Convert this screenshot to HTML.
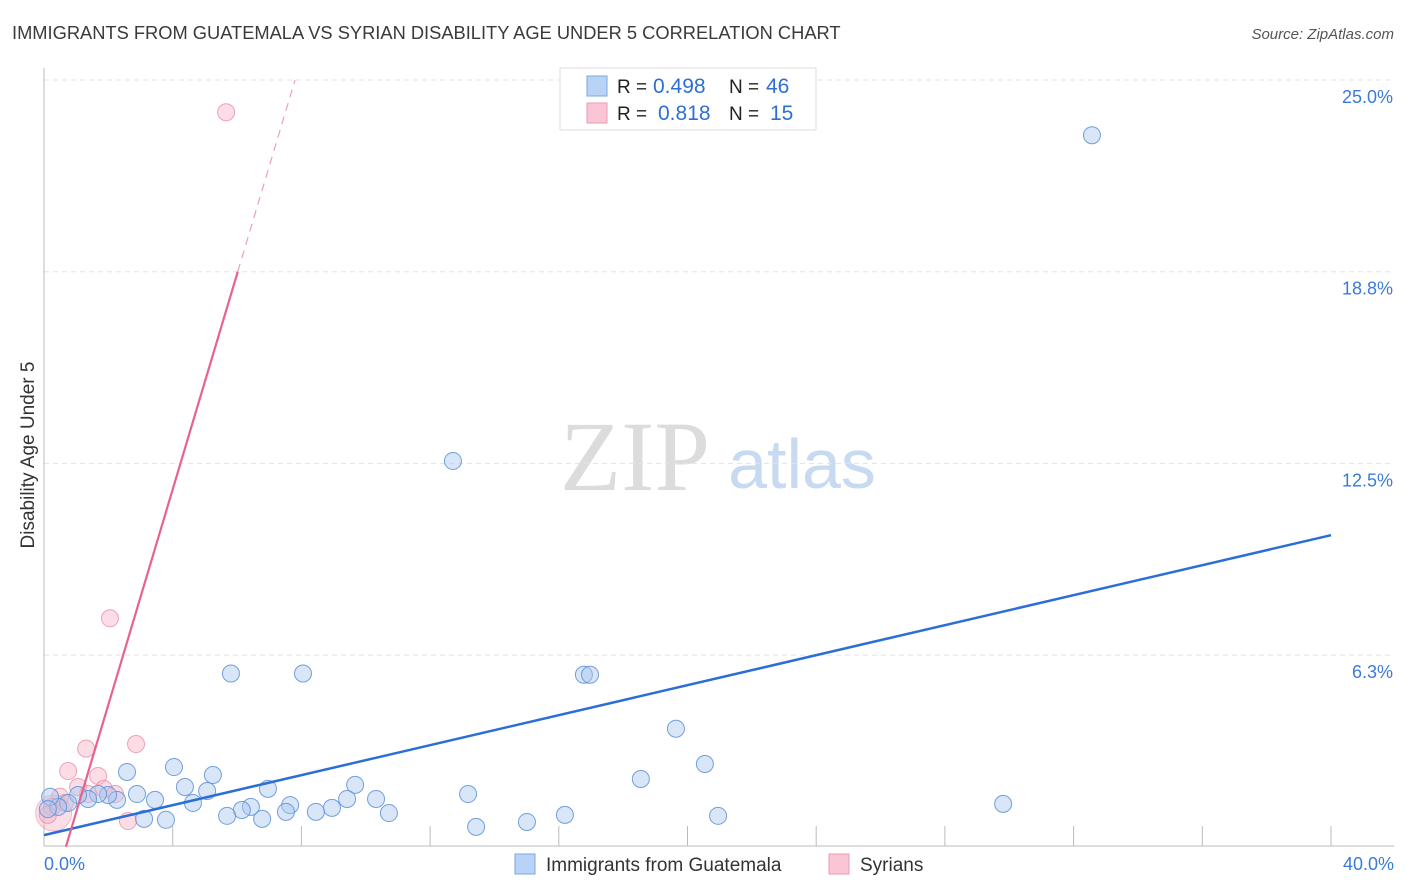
<!DOCTYPE html>
<html><head><meta charset="utf-8">
<style>
body{margin:0;background:#fff;font-family:"Liberation Sans",sans-serif;}
#wrap{position:relative;width:1406px;height:892px;overflow:hidden;}
svg text{font-family:"Liberation Sans",sans-serif;}
svg text.serif{font-family:"Liberation Serif",serif;}
</style></head>
<body>
<div id="wrap">
<svg id="chart" width="1406" height="892">
  <text x="12" y="39" font-size="18.3" fill="#3a3a3a">IMMIGRANTS FROM GUATEMALA VS SYRIAN DISABILITY AGE UNDER 5 CORRELATION CHART</text>
  <text x="1394" y="39" font-size="15" fill="#555" font-style="italic" text-anchor="end">Source: ZipAtlas.com</text>
  <text x="34" y="455" font-size="19" fill="#333" text-anchor="middle" transform="rotate(-90 34 455)">Disability Age Under 5</text>
  <g>
    <text class="serif" x="635" y="490" font-size="100" fill="#dcdcdc" text-anchor="middle">ZIP</text>
    <text x="802" y="488" font-size="70" fill="#c8daf2" text-anchor="middle">atlas</text>
  </g>
  <g id="grid"></g>
  <g id="marks"></g>
  <g>
    <rect x="560" y="68" width="256" height="62" fill="#fff" stroke="#ddd"/>
    <rect x="587" y="76" width="20" height="20" fill="#b8d3f5" stroke="#7aa8e0"/>
    <rect x="587" y="103" width="20" height="20" fill="#fac6d6" stroke="#ee9ab4"/>
    <text x="617" y="93" font-size="19" fill="#222">R =</text>
    <text x="653" y="93" font-size="21" fill="#2e6fd4">0.498</text>
    <text x="729" y="93" font-size="19" fill="#222">N =</text>
    <text x="766" y="93" font-size="21" fill="#2e6fd4">46</text>
    <text x="617" y="120" font-size="19" fill="#222">R =</text>
    <text x="658" y="120" font-size="21" fill="#2e6fd4">0.818</text>
    <text x="729" y="120" font-size="19" fill="#222">N =</text>
    <text x="770" y="120" font-size="21" fill="#2e6fd4">15</text>
  </g>
  <g>
    <rect x="515" y="854" width="20" height="20" fill="#b8d3f5" stroke="#7aa8e0"/>
    <text x="546" y="871" font-size="19" fill="#333">Immigrants from Guatemala</text>
    <rect x="829" y="854" width="20" height="20" fill="#fac6d6" stroke="#ee9ab4"/>
    <text x="860" y="871" font-size="19" fill="#333">Syrians</text>
  </g>
</svg>
</div>
<script>
const yTicks=[6.25,12.5,18.75,25];
const yTickLabels=["6.3%","12.5%","18.8%","25.0%"];
const xTicks=[0,4,8,12,16,20,24,28,32,36,40];
const blueX=[32.57,12.71,5.81,8.05,16.78,16.97,19.64,20.54,18.55,29.81,20.95,16.19,15.01,13.43,13.18,10.72,10.32,9.67,9.42,8.95,8.45,7.65,7.52,6.96,6.78,6.43,6.15,5.69,5.25,5.07,4.63,4.38,4.04,3.79,3.45,3.11,2.89,2.58,2.27,1.99,1.68,1.37,1.06,0.75,0.44,0.19,0.12];
const blueY=[23.2,12.58,5.65,5.65,5.61,5.61,3.85,2.7,2.21,1.4,1.01,1.04,0.81,0.65,1.72,1.1,1.56,2.02,1.56,1.27,1.14,1.36,1.14,1.89,0.91,1.3,1.2,1.01,2.34,1.82,1.43,1.95,2.6,0.88,1.53,0.91,1.72,2.44,1.53,1.69,1.72,1.56,1.69,1.43,1.3,1.63,1.23];
const pinkX=[5.66,2.05,2.86,1.31,0.75,1.68,1.06,1.86,2.61,2.21,0.5,0.25,0.12,1.37,0.65];
const pinkY=[23.95,7.45,3.35,3.2,2.47,2.31,1.95,1.89,0.84,1.72,1.63,1.3,1.04,1.72,1.43];
const blueFit=[0.38,0.2445];
const pinkFit=[-2.387,3.51];
const X0=44,X1=1331,Y0=846.8,Y25=80;
const sx=v=>X0+(X1-X0)*v/40;
const sy=v=>Y0-(Y0-Y25)*v/25;
const NS="http://www.w3.org/2000/svg";
function mk(tag,attrs,parent){const e=document.createElementNS(NS,tag);for(const k in attrs)e.setAttribute(k,attrs[k]);parent.appendChild(e);return e;}
const grid=document.getElementById('grid'),marks=document.getElementById('marks');
yTicks.forEach((t,i)=>{
  const l=mk('line',{x1:44,x2:1394,y1:sy(t),y2:sy(t),stroke:'#e3e3e3','stroke-dasharray':'5,4'},grid);
  
  
  const tx=mk('text',{x:1393,y:sy(t)+23,'font-size':18,fill:'#3b7bd8','text-anchor':'end'},grid);
  tx.textContent=yTickLabels[i];
  
  
});
const ya=mk('line',{x1:44,x2:44,y1:68,y2:846,stroke:'#bbb'},grid);


const xa=mk('line',{x1:44,x2:1394,y1:846,y2:846,stroke:'#bbb'},grid);


xTicks.forEach(t=>{
  if(t===0)return;
  const l=mk('line',{x1:sx(t),x2:sx(t),y1:826,y2:846,stroke:'#bbb'},grid);
  
  
});
const xl=mk('text',{x:44,y:870,'font-size':18,fill:'#3b7bd8'},grid);xl.textContent='0.0%';


const xr=mk('text',{x:1394,y:870,'font-size':18,fill:'#3b7bd8','text-anchor':'end'},grid);xr.textContent='40.0%';


const bg=mk('circle',{cx:sx(0.3),cy:sy(1.1),r:18,fill:'rgba(240,160,185,0.35)',stroke:'rgba(230,140,170,0.5)'},marks);


pinkX.forEach((x,i)=>{
  const c=mk('circle',{cx:sx(x),cy:sy(pinkY[i]),r:8.5,fill:'rgba(248,180,200,0.45)',stroke:'rgba(236,140,170,0.8)','stroke-width':1},marks);
  
  
});
blueX.forEach((x,i)=>{
  const c=mk('circle',{cx:sx(x),cy:sy(blueY[i]),r:8.5,fill:'rgba(170,200,240,0.45)',stroke:'rgba(90,145,215,0.85)','stroke-width':1},marks);
  
  
});
const bl=mk('line',{x1:sx(0),y1:sy(blueFit[0]),x2:sx(40),y2:sy(blueFit[0]+blueFit[1]*40),stroke:'#2a6fd6','stroke-width':2.5},marks);


const px0=-pinkFit[0]/pinkFit[1], pxs=(18.75-pinkFit[0])/pinkFit[1], pxe=(25-pinkFit[0])/pinkFit[1];
const pl=mk('line',{x1:sx(px0),y1:sy(0),x2:sx(pxs),y2:sy(18.75),stroke:'#e8628f','stroke-width':2.2},marks);


const pd=mk('line',{x1:sx(pxs),y1:sy(18.75),x2:sx(pxe),y2:sy(25),stroke:'#eea0b8','stroke-width':1.2,'stroke-dasharray':'8,6'},marks);


</script>
</body></html>
